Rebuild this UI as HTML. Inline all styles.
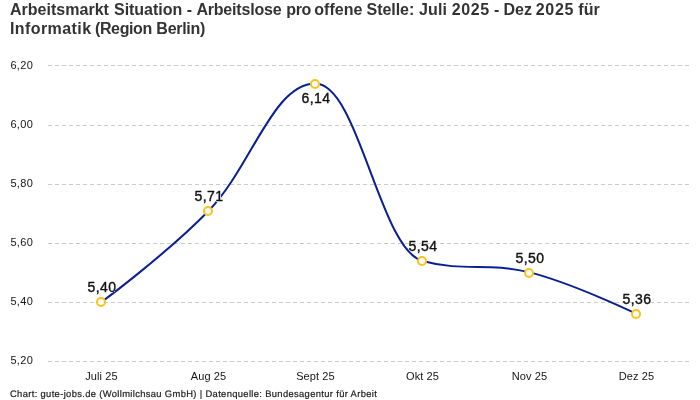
<!DOCTYPE html>
<html lang="de">
<head>
<meta charset="utf-8">
<title>Arbeitsmarkt Situation - Arbeitslose pro offene Stelle</title>
<style>
html,body{margin:0;padding:0;background:#fff;}
body{width:700px;height:400px;overflow:hidden;font-family:"Liberation Sans",sans-serif;}
svg{display:block;font-family:"Liberation Sans",sans-serif;}
.title{font-weight:700;font-size:16px;fill:#333333;letter-spacing:0.015px;}
.ax{font-size:11px;fill:#151515;letter-spacing:0.3px;stroke:#151515;stroke-width:0;}
.xl{font-size:11px;fill:#151515;text-anchor:middle;letter-spacing:0.1px;stroke:#151515;stroke-width:0;}
.foot{font-size:9.4px;fill:#222222;letter-spacing:0.345px;text-rendering:geometricPrecision;stroke:#222222;stroke-width:0.2;}
.grid line{stroke:#cccccc;stroke-width:1;stroke-dasharray:4 3;shape-rendering:crispEdges;}
.dl{font-size:14px;fill:#111111;text-anchor:middle;letter-spacing:0.4px;stroke:#111111;stroke-width:0.38;filter:url(#halo);}
.line{fill:none;stroke:#0a1f92;stroke-width:2;stroke-linecap:round;stroke-linejoin:round;}
.pt{fill:#fff;stroke:#fcc21b;stroke-width:2.1;}
</style>
</head>
<body>
<svg width="700" height="400" viewBox="0 0 700 400" role="img" aria-label="Liniendiagramm">
<defs>
<filter id="halo" x="-20%" y="-30%" width="140%" height="160%" color-interpolation-filters="sRGB">
<feMorphology in="SourceAlpha" operator="dilate" radius="0.45" result="d"/>
<feGaussianBlur in="d" stdDeviation="0.3" result="b"/>
<feComponentTransfer in="b" result="a"><feFuncA type="linear" slope="5" intercept="0"/></feComponentTransfer>
<feFlood flood-color="#ffffff" result="w"/>
<feComposite in="w" in2="a" operator="in" result="h"/>
<feMerge><feMergeNode in="h"/><feMergeNode in="SourceGraphic"/></feMerge>
</filter>
</defs>
<rect x="0" y="0" width="700" height="400" fill="#ffffff"/>
<text class="title" y="15"><tspan x="10" style="letter-spacing:0.015px">Arbeitsmarkt </tspan><tspan x="114.03" style="letter-spacing:-0.035px">Situation </tspan><tspan x="186.68" style="letter-spacing:0.015px">- </tspan><tspan x="196.38" style="letter-spacing:-0.195px">Arbeitslose </tspan><tspan x="286.24" style="letter-spacing:-0.335px">pro </tspan><tspan x="314.32" style="letter-spacing:0.035px">offene </tspan><tspan x="366.57" style="letter-spacing:-0.052px">Stelle: </tspan><tspan x="419.05" style="letter-spacing:0.148px">Juli </tspan><tspan x="451.74" style="letter-spacing:0.648px">2025 </tspan><tspan x="493.95" style="letter-spacing:0.015px">- </tspan><tspan x="503.45" style="letter-spacing:0.015px">Dez </tspan><tspan x="535.72" style="letter-spacing:0.682px">2025 </tspan><tspan x="578.33" style="letter-spacing:0.065px">für</tspan></text>
<text class="title" y="34"><tspan x="10" style="letter-spacing:0.41px">Informatik </tspan><tspan x="95.0" style="letter-spacing:-0.385px">(Region </tspan><tspan x="156.36" style="letter-spacing:-0.285px">Berlin)</tspan></text>
<g class="grid">
<line x1="48" y1="65.5" x2="690" y2="65.5"/>
<line x1="48" y1="125.5" x2="690" y2="125.5"/>
<line x1="48" y1="184.5" x2="690" y2="184.5"/>
<line x1="48" y1="243.5" x2="690" y2="243.5"/>
<line x1="48" y1="302.5" x2="690" y2="302.5"/>
<line x1="48" y1="361.5" x2="690" y2="361.5"/>
</g>
<g>
<text class="ax" x="10.45" y="69">6,20</text>
<text class="ax" x="10.45" y="128">6,00</text>
<text class="ax" x="10.45" y="187">5,80</text>
<text class="ax" x="10.45" y="246">5,60</text>
<text class="ax" x="10.45" y="305">5,40</text>
<text class="ax" x="10.45" y="364">5,20</text>
</g>
<g>
<text class="xl" x="101.50" y="379.8">Juli 25</text>
<text class="xl" x="208.50" y="379.8">Aug 25</text>
<text class="xl" x="315.50" y="379.8">Sept 25</text>
<text class="xl" x="422.50" y="379.8">Okt 25</text>
<text class="xl" x="529.50" y="379.8">Nov 25</text>
<text class="xl" x="636.50" y="379.8">Dez 25</text>
</g>
<path class="line" d="M101.50,302.00 C101.50,302.00 165.70,254.63 208.50,210.95 C251.30,167.27 272.70,83.60 315.50,83.60 C358.30,83.60 379.70,249.50 422.50,260.95 C465.30,272.40 486.70,261.81 529.50,272.40 C572.30,282.99 636.50,313.90 636.50,313.90"/>
<g>
<circle class="pt" cx="101.00" cy="302.00" r="4"/>
<circle class="pt" cx="208.00" cy="210.95" r="4"/>
<circle class="pt" cx="315.00" cy="83.95" r="4"/>
<circle class="pt" cx="422.00" cy="261.00" r="4"/>
<circle class="pt" cx="529.00" cy="272.95" r="4"/>
<circle class="pt" cx="636.00" cy="314.00" r="4"/>
</g>
<g>
<text class="dl" x="102.00" y="291.70">5,40</text>
<text class="dl" x="209.00" y="200.65">5,71</text>
<text class="dl" x="316.00" y="102.95">6,14</text>
<text class="dl" x="423.00" y="250.70">5,54</text>
<text class="dl" x="530.00" y="262.65">5,50</text>
<text class="dl" x="637.00" y="303.70">5,36</text>
</g>
<text class="foot" x="10" y="397">Chart: gute-jobs.de (Wollmilchsau GmbH) | Datenquelle: Bundesagentur für Arbeit</text>
</svg>
</body>
</html>
